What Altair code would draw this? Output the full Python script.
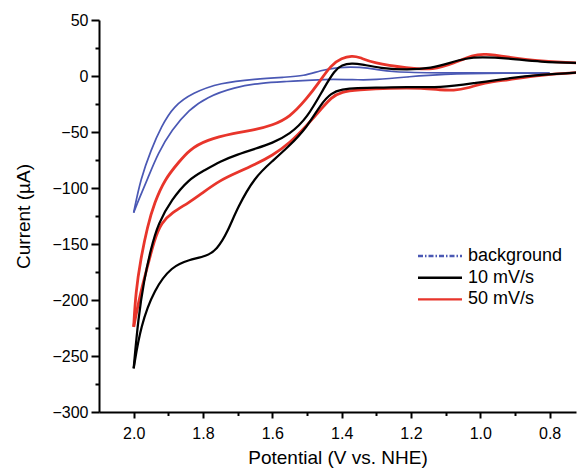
import altair as alt
import pandas as pd

FONT = "Liberation Sans"

SERIES = ["background", "10 mV/s", "50 mV/s"]
COLORS = ["#4a58b4", "#000000", "#e8352b"]
WIDTHS = [1.7, 2.8, 2.8]
DASHES = [[5, 2, 1.5, 2], [1, 0], [1, 0]]

# background (blank electrolyte), two branches of the loop
BG_UP_V = [0.80, 0.92, 1.12, 1.26, 1.30, 1.345, 1.41, 1.46, 1.51, 1.56, 1.65, 1.75, 1.83, 1.885, 1.92, 1.95, 1.98, 2.0]
BG_UP_I = [2.5, 2.7, 2.7, 3.5, 6, 8, 8, 5, 0, -1, -2.7, -6, -15, -27, -45, -66, -92, -122]
BG_LO_V = [0.80, 0.92, 1.12, 1.21, 1.31, 1.345, 1.43, 1.48, 1.56, 1.63, 1.71, 1.79, 1.84, 1.89, 1.93, 1.96, 1.985, 2.0]
BG_LO_I = [2.5, 2.7, 1.8, -0.9, -3.5, -3.5, -2.7, -3.5, -5, -6, -10, -19, -30, -48, -69, -92, -110, -122]

# 10 mV/s
BK_UP_V = [0.70, 0.83, 0.92, 1.00, 1.04, 1.09, 1.14, 1.21, 1.29, 1.345, 1.37, 1.40, 1.42, 1.45, 1.50, 1.55, 1.60, 1.65, 1.70, 1.75, 1.80, 1.84, 1.89, 1.93, 1.95, 1.97, 1.987, 2.0]
BK_UP_I = [11.5, 12.5, 16, 17, 16, 11.5, 7, 5.3, 7, 10.7, 11.5, 10, 5, -10, -38, -52, -60, -65, -70, -76, -85, -92, -110, -132, -154, -182, -217, -261]
BK_LO_V = [0.70, 0.83, 0.92, 1.02, 1.115, 1.21, 1.31, 1.354, 1.40, 1.43, 1.46, 1.50, 1.556, 1.60, 1.65, 1.70, 1.73, 1.76, 1.79, 1.84, 1.89, 1.94, 1.98, 2.0]
BK_LO_I = [3.5, 1, -2, -6.5, -10.7, -9.5, -10.7, -10.5, -12, -15, -25, -46, -64, -76, -90, -117, -140, -155, -161, -164, -170, -190, -223, -261]

# 50 mV/s
RD_UP_V = [0.70, 0.83, 0.92, 0.99, 1.02, 1.077, 1.135, 1.21, 1.31, 1.35, 1.37, 1.40, 1.43, 1.466, 1.50, 1.55, 1.60, 1.65, 1.71, 1.79, 1.84, 1.87, 1.91, 1.94, 1.96, 1.98, 1.994, 2.0]
RD_UP_I = [11.5, 13, 17, 20, 18.7, 11.5, 5.3, 7, 11.5, 17, 18, 16, 10, -6, -20, -37, -44, -48, -51, -57, -66, -77, -92, -113, -134, -164, -193, -224]
RD_LO_V = [0.70, 0.83, 0.92, 0.99, 1.037, 1.077, 1.115, 1.164, 1.26, 1.354, 1.40, 1.43, 1.46, 1.50, 1.55, 1.60, 1.65, 1.70, 1.75, 1.80, 1.84, 1.89, 1.92, 1.94, 1.96, 1.98, 2.0]
RD_LO_I = [3.5, 1, -3.5, -6, -11, -13, -12.5, -10.7, -10.7, -12.5, -14, -19, -30, -44, -60, -71, -79, -86, -93, -104, -113, -122, -131, -146, -170, -193, -224]

X_MAJOR = [2.0, 1.8, 1.6, 1.4, 1.2, 1.0, 0.8]
X_MINOR = [1.9, 1.7, 1.5, 1.3, 1.1, 0.9]
Y_MAJOR = [-300, -250, -200, -150, -100, -50, 0, 50]
Y_MINOR = [-275, -225, -175, -125, -75, -25, 25]

rows = []


def add(series, branch, vs, cs):
    for v, c in zip(vs, cs):
        rows.append({"series": series, "branch": series + "-" + branch, "V": v, "I": c})


add("background", "up", BG_UP_V, BG_UP_I)
add("background", "lo", BG_LO_V, BG_LO_I)
add("50 mV/s", "up", RD_UP_V, RD_UP_I)
add("50 mV/s", "lo", RD_LO_V, RD_LO_I)
add("10 mV/s", "up", BK_UP_V, BK_UP_I)
add("10 mV/s", "lo", BK_LO_V, BK_LO_I)
df = pd.DataFrame(rows)

legend_df = pd.DataFrame({"series": SERIES, "V": [1.5] * 3, "I": [-200] * 3})

x_scale = alt.Scale(domain=[0.724, 2.1], reverse=True, nice=False, zero=False)
y_scale = alt.Scale(domain=[-300, 50], nice=False, zero=False)
color_scale = alt.Scale(domain=SERIES, range=COLORS)

lines = alt.Chart(df).mark_line(interpolate="basis", clip=True).encode(
    x=alt.X("V:Q", scale=x_scale, axis=alt.Axis(
        orient="bottom", values=X_MAJOR, format=".1f", title="Potential (V vs. NHE)",
        tickSize=6, labelPadding=7, titleY=51, titleBaseline="alphabetic")),
    y=alt.Y("I:Q", scale=y_scale, axis=alt.Axis(
        orient="left", values=Y_MAJOR, format="d", title="Current (\u00b5A)",
        tickSize=8, labelPadding=3, titleX=-70, titleY=196, titleBaseline="alphabetic")),
    color=alt.Color("series:N", scale=color_scale, legend=None),
    strokeWidth=alt.StrokeWidth("series:N", scale=alt.Scale(domain=SERIES, range=WIDTHS), legend=None),
    detail="branch:N",
)

leg = alt.Legend(
    title=None, orient="none", legendX=332, legendY=227,
    symbolType="M-4,0H4", symbolSize=121, symbolStrokeWidth=2.4,
    labelOffset=19, rowPadding=3.7, labelFontSize=18, labelFont=FONT,
    labelColor="black", padding=0,
)

keys = alt.Chart(legend_df).mark_line().encode(
    x=alt.X("V:Q", scale=x_scale, axis=alt.Axis(
        orient="bottom", values=X_MINOR, labels=False, domain=False, tickSize=3.5, title=None)),
    y=alt.Y("I:Q", scale=y_scale, axis=alt.Axis(
        orient="left", values=Y_MINOR, labels=False, domain=False, tickSize=4, title=None)),
    color=alt.Color("series:N", scale=color_scale, legend=leg),
    strokeDash=alt.StrokeDash("series:N", scale=alt.Scale(domain=SERIES, range=DASHES), legend=leg),
)

chart = alt.layer(lines, keys).resolve_axis(
    x="independent", y="independent"
).resolve_legend(
    color="independent", strokeDash="independent", strokeWidth="independent"
).properties(
    width=477, height=392,
    autosize=alt.AutoSizeParams(type="none"),
    padding={"left": 91, "top": 12, "right": 1, "bottom": 59},
    background="white",
).configure_view(stroke=None).configure_axis(
    grid=False, domainColor="black", domainWidth=2, tickColor="black", tickWidth=2,
    labelFont=FONT, labelFontSize=16, labelColor="black",
    titleFont=FONT, titleFontSize=19, titleFontWeight="normal", titleColor="black",
)

chart.save("out.html", embed_options={"renderer": "svg", "actions": False})
